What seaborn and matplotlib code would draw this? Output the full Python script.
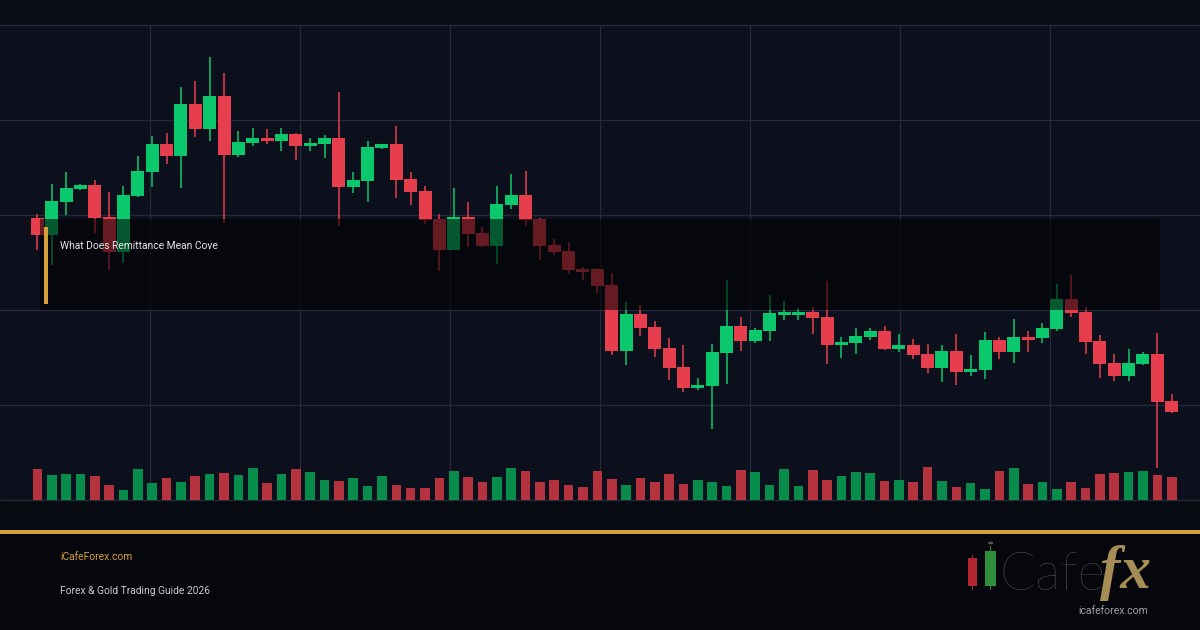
import numpy as np
import pandas as pd
import matplotlib
matplotlib.use("Agg")
import matplotlib.pyplot as plt
import seaborn as sns
from matplotlib.patches import Rectangle, Circle

# ---------------- data ----------------
opens = [2282, 2265, 2298, 2311, 2315, 2283, 2248, 2304, 2328, 2356,
         2344, 2396, 2371, 2404, 2345, 2357, 2362, 2359, 2366, 2354,
         2356, 2362, 2313, 2319, 2352, 2356, 2321, 2309, 2281, 2250,
         2283, 2267, 2254, 2295, 2305, 2281, 2255, 2249, 2231, 2231,
         2215, 2149, 2186, 2173, 2152, 2133, 2112, 2114, 2147, 2174,
         2159, 2169, 2185, 2185, 2188, 2183, 2155, 2157, 2163, 2169,
         2151, 2155, 2146, 2132, 2149, 2128, 2130, 2160, 2148, 2163,
         2162, 2171, 2201, 2188, 2159, 2137, 2124, 2136, 2146, 2099]
highs = [2286, 2316, 2328, 2316, 2320, 2308, 2314, 2344, 2364, 2367,
         2413, 2419, 2443, 2427, 2369, 2372, 2371, 2372, 2367, 2362,
         2365, 2408, 2328, 2359, 2356, 2374, 2328, 2314, 2286, 2312,
         2298, 2273, 2314, 2326, 2329, 2282, 2261, 2258, 2233, 2232,
         2227, 2198, 2195, 2179, 2162, 2155, 2122, 2156, 2220, 2183,
         2172, 2205, 2199, 2192, 2193, 2219, 2163, 2172, 2172, 2174,
         2166, 2161, 2156, 2155, 2166, 2145, 2168, 2163, 2181, 2169,
         2177, 2216, 2225, 2193, 2165, 2146, 2151, 2148, 2167, 2106]
lows = [2250, 2235, 2285, 2310, 2267, 2230, 2237, 2303, 2313, 2336,
        2312, 2363, 2359, 2277, 2343, 2354, 2356, 2349, 2340, 2349,
        2342, 2274, 2307, 2298, 2351, 2302, 2295, 2276, 2229, 2250,
        2253, 2253, 2236, 2291, 2274, 2240, 2245, 2226, 2220, 2207,
        2145, 2135, 2164, 2143, 2120, 2108, 2110, 2071, 2116, 2149,
        2157, 2159, 2180, 2180, 2166, 2136, 2142, 2146, 2160, 2150,
        2148, 2141, 2127, 2118, 2115, 2124, 2121, 2141, 2137, 2148,
        2157, 2169, 2183, 2146, 2122, 2119, 2119, 2135, 2032, 2087]
closes = [2265, 2299, 2312, 2315, 2282, 2248, 2305, 2329, 2356, 2344,
          2396, 2371, 2404, 2345, 2358, 2362, 2359, 2366, 2354, 2357,
          2362, 2313, 2320, 2353, 2356, 2320, 2308, 2280, 2250, 2283,
          2266, 2254, 2296, 2305, 2280, 2254, 2248, 2230, 2228, 2214,
          2149, 2186, 2172, 2151, 2132, 2112, 2115, 2148, 2174, 2159,
          2170, 2187, 2188, 2188, 2182, 2155, 2158, 2164, 2169, 2151,
          2155, 2145, 2132, 2149, 2128, 2131, 2160, 2148, 2163, 2160,
          2172, 2201, 2187, 2158, 2136, 2124, 2137, 2146, 2098, 2088]
volumes = [307, 247, 257, 257, 237, 147, 97, 307, 167, 217,
           177, 237, 257, 267, 247, 317, 167, 257, 307, 277,
           197, 187, 217, 137, 237, 147, 117, 117, 217, 287,
           227, 177, 227, 317, 287, 177, 197, 147, 127, 287,
           207, 147, 217, 177, 257, 157, 197, 177, 137, 297,
           277, 147, 307, 137, 297, 197, 237, 277, 267, 187,
           197, 177, 327, 187, 127, 167, 107, 287, 317, 157,
           177, 107, 177, 117, 257, 267, 277, 287, 247, 227]

overlay_title = "What Does Remittance Mean Cove"
brand_text = "iCafeForex.com"
guide_text = "Forex & Gold Trading Guide 2026"
logo_word = "Cafe"
logo_fx = "fx"
logo_url = "icafeforex.com"

# ---------------- style ----------------
BG = "#080b14"
CHART_BG = "#0c101d"
TOP_BG = "#0a0d17"
FOOT_BG = "#05070c"
GRID = "#262b3b"
UP = "#0cc86c"
DOWN = "#e63e4c"
VOL_UP = "#078c4c"
VOL_DOWN = "#b5333f"
GOLD = "#d69e3c"

sns.set_theme(style="dark")
plt.rcParams["font.family"] = ["Roboto", "DejaVu Sans"]

W, H = 1200, 630
fig = plt.figure(figsize=(12, 6.3), dpi=100, facecolor=BG)


def fxp(x):
    return x / W


def fyp(y):
    return 1 - y / H


def rect_px(x0, y0, x1, y1, **kw):
    r = Rectangle((fxp(x0), fyp(y1)), fxp(x1) - fxp(x0), fyp(y0) - fyp(y1),
                  transform=fig.transFigure, **kw)
    fig.add_artist(r)
    return r


# background bands
rect_px(0, 0, 1200, 25, facecolor=TOP_BG, edgecolor="none", zorder=-5)
rect_px(0, 500, 1200, 530, facecolor="#070a11", edgecolor="none", zorder=-5)
rect_px(0, 534, 1200, 630, facecolor=FOOT_BG, edgecolor="none", zorder=-5)

chart_rect = [0, fyp(500), 1, 475 / H]

# grid axes (8 columns x 5 rows)
gax = fig.add_axes(chart_rect, zorder=0)
gax.set_facecolor(CHART_BG)
gax.set_xlim(0, 8)
gax.set_ylim(0, 5)
for k in range(1, 8):
    gax.axvline(k, color=GRID, lw=0.9)
for k in range(0, 6):
    gax.axhline(k, color=GRID, lw=0.9, clip_on=False)
gax.set_xticks([])
gax.set_yticks([])
for s in gax.spines.values():
    s.set_visible(False)

n = len(opens)
idx = np.arange(n)
o = np.array(opens, float)
h = np.array(highs, float)
l = np.array(lows, float)
c = np.array(closes, float)
up = c >= o
XLIM = (-2.6, 80.97)

# volume axes (seaborn)
vax = fig.add_axes(chart_rect, zorder=1)
vax.set_facecolor("none")
df = pd.DataFrame({"idx": idx, "volume": volumes,
                   "dir": np.where(up, "up", "down")})
sns.barplot(data=df, x="idx", y="volume", hue="dir",
            palette={"up": VOL_UP, "down": VOL_DOWN}, native_scale=True,
            width=0.67, dodge=False, errorbar=None, saturation=1,
            legend=False, linewidth=0, ax=vax)
vax.set_xlim(*XLIM)
vax.set_ylim(0, 4750)
vax.axis("off")

# candles
ax = fig.add_axes(chart_rect, zorder=2)
ax.set_facecolor("none")
cols = np.where(up, UP, DOWN)
ax.vlines(idx, l, h, colors=cols, linewidth=1.1, zorder=2)
ax.bar(idx, np.maximum(np.abs(c - o), 0.8), bottom=np.minimum(o, c),
       width=0.905, color=cols, linewidth=0, zorder=3)
ax.set_xlim(*XLIM)
ax.set_ylim(2000, 2475)
ax.axis("off")

# dark overlay band with title
rect_px(40, 219, 1160, 310, facecolor="black", edgecolor="none",
        alpha=0.56, zorder=5)
rect_px(44, 227, 48, 304, facecolor=GOLD, edgecolor="none", zorder=6)
fig.text(fxp(60), fyp(249), overlay_title, color="#e6e6e6", fontsize=7.4,
         va="baseline", ha="left", zorder=7)

# gold divider
rect_px(0, 530, 1200, 534, facecolor=GOLD, edgecolor="none", zorder=6)

# footer text
fig.text(fxp(60), fyp(560), brand_text, color=GOLD, fontsize=7.4,
         va="baseline", ha="left", zorder=7)
fig.text(fxp(60), fyp(594), guide_text, color="#c9c9c9", fontsize=7.4,
         va="baseline", ha="left", zorder=7)

# logo icon
rect_px(972, 555, 973.2, 590, facecolor="#9a2a2e", edgecolor="none", zorder=6)
rect_px(968, 558, 977, 586, facecolor="#b3262c", edgecolor="none", zorder=7)
rect_px(990, 546, 991.2, 590, facecolor="#3a7f44", edgecolor="none", zorder=6)
rect_px(985, 551, 996, 586, facecolor="#2f8f3f", edgecolor="none", zorder=7)
fig.add_artist(Circle((fxp(990.6), fyp(543)), 2.6 / W, transform=fig.transFigure,
                      facecolor="#555555", edgecolor="none", zorder=7))
fig.text(fxp(999), fyp(590), logo_word, color="#555555", fontsize=38,
         family=["Lato", "DejaVu Sans"], fontweight="light",
         va="baseline", ha="left", zorder=7)
fig.text(fxp(1100), fyp(588), logo_fx, color="#a68c55", fontsize=44,
         family=["Liberation Serif", "DejaVu Serif"], style="italic",
         fontweight="bold", va="baseline", ha="left", zorder=8)
fig.text(fxp(1113), fyp(614), logo_url, color="#a0a0a0", fontsize=7.5,
         va="baseline", ha="center", zorder=9)

fig.savefig("out.png", dpi=100, facecolor=BG)
